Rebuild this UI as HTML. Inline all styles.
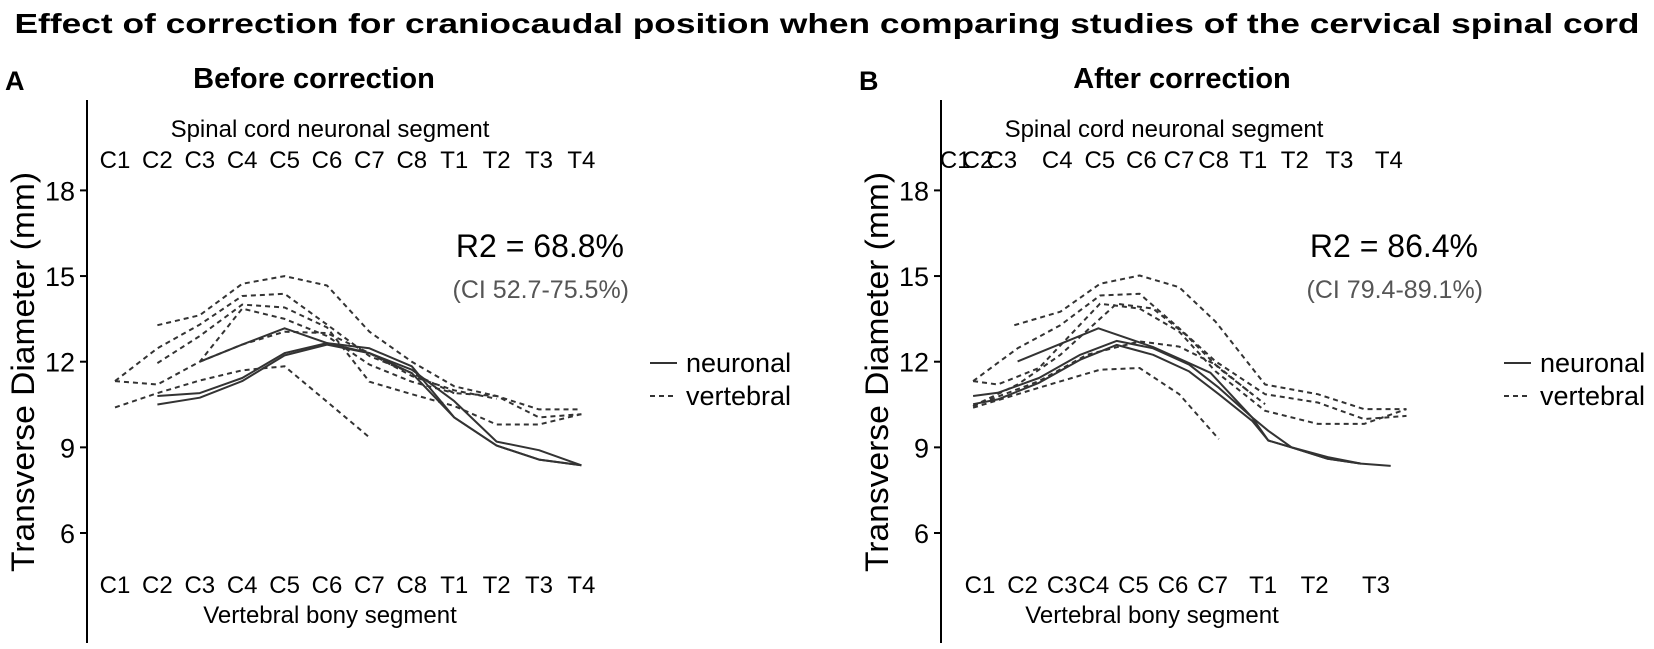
<!DOCTYPE html>
<html><head><meta charset="utf-8">
<style>
html,body{margin:0;padding:0;background:#fff;}
svg{display:block;font-family:"Liberation Sans",Arial,sans-serif;}
</style></head>
<body>
<svg id="chart" width="1654" height="649" viewBox="0 0 1654 649" xmlns="http://www.w3.org/2000/svg">
<text x="827" y="33" text-anchor="middle" font-size="28" font-weight="bold" textLength="1625" lengthAdjust="spacingAndGlyphs">Effect of correction for craniocaudal position when comparing studies of the cervical spinal cord</text>
<g id="panelA"></g>
<g id="panelB"></g>
</svg>
<script>
// ---------- shared data ----------
const yTicks = [6, 9, 12, 15, 18];
const segLabelsA = ["C1","C2","C3","C4","C5","C6","C7","C8","T1","T2","T3","T4"];
// Panel A: index positions (segment index), values in mm
const neuronalA = [
  {start:2, vals:[12.0,12.6,13.17,12.65,12.3,11.72,10.62,9.2,8.9,8.37]},
  {start:1, vals:[10.8,10.9,11.43,12.3,12.65,12.47,11.84,10.05,9.06,8.57,8.37]},
  {start:1, vals:[10.5,10.74,11.32,12.22,12.6,12.3,11.6,10.05,9.06,8.57,8.37]}
];
const vertebralA = [
  {start:1, vals:[13.28,13.63,14.73,15.0,14.67,13.05,12.0,11.14,10.8,10.33,10.33]},
  {start:0, vals:[11.32,12.47,13.3,14.3,14.38,13.3,12.2,11.6,10.9,10.8,10.05,10.16]},
  {start:0, vals:[11.32,11.2,12.0,13.86,13.5,12.9,11.9,11.3,10.9]},
  {start:1, vals:[11.95,12.9,14.0,13.9,13.2,11.3,10.86,10.45,9.8,9.8,10.16]},
  {start:2, vals:[12.0,12.6,13.05,13.0,12.3,11.5,11.0,10.7]},
  {start:0, vals:[10.4,10.9,11.34,11.7,11.84,10.6,9.35]}
];
// Panel B: continuous positions (vertebral units)
const bottomLabelsB = ["C1","C2","C3","C4","C5","C6","C7","T1","T2","T3"];
const bottomPosB = [0,1.075,2.075,2.875,3.875,4.875,5.875,7.15,8.45,10.0];
const topLabelsB = ["C1","C2","C3","C4","C5","C6","C7","C8","T1","T2","T3","T4"];
const topPosB = [-0.625,-0.05,0.55,1.95,3.025,4.075,5.025,5.9,6.9,7.95,9.075,10.325];
const neuronalBx = [
  [0.95,2.99,4.37,5.2,5.82,6.87,7.28,7.87,8.78,9.62,10.37],
  [-0.175,0.45,1.49,2.53,3.45,4.37,5.28,6.03,6.87,7.28,7.87,8.78,9.62],
  [-0.175,0.45,1.49,2.53,3.45,4.37,5.28,6.03,6.87,7.28,7.87,8.78,9.62]
];
const neuronalBy = [
  [12.01,13.17,12.51,12.0,11.61,10.05,9.58,9.0,8.66,8.43,8.35],
  [10.8,10.91,11.43,12.24,12.73,12.47,11.9,11.09,10.05,9.24,9.0,8.6,8.43],
  [10.51,10.68,11.26,12.07,12.59,12.24,11.66,10.86,9.93,9.24,9.0,8.6,8.43]
];
const vertebralBx = [
  [0.867,2.03,3.03,4.03,5.03,5.95,7.2,8.53,9.7,10.77],
  [-0.175,0.95,2.03,3.03,4.03,5.03,5.95,7.2,8.53,9.7,10.77],
  [-0.175,0.45,1.49,3.03,4.03,5.03,5.95,7.2,8.53,9.7,10.77],
  [-0.175,0.95,2.03,3.45,4.37,5.2,6.03,7.2],
  [-0.175,1.49,2.7,4.03,5.03,5.95,6.87],
  [-0.175,1.49,3.03,4.03,5.03,6.03]
];
const vertebralBy = [
  [13.28,13.75,14.73,15.02,14.61,13.4,11.2,10.86,10.34,10.34],
  [11.32,12.47,13.28,14.32,14.38,13.17,12.01,10.86,10.57,9.99,10.1],
  [11.32,11.2,11.78,14.03,13.86,13.05,11.66,10.28,9.82,9.82,10.34],
  [10.45,11.2,12.24,14.03,13.86,12.94,11.78,10.51],
  [10.45,11.32,12.24,12.71,12.53,11.9,10.86],
  [10.39,11.09,11.72,11.78,10.86,9.29]
];

const NS = "http://www.w3.org/2000/svg";
function mk(parent, tag, attrs, txt){
  const e = document.createElementNS(NS, tag);
  for (const k in attrs) e.setAttribute(k, attrs[k]);
  if (txt !== undefined) e.textContent = txt;
  parent.appendChild(e);
  return e;
}
const yScale = v => 533 - (v - 6) * 28.55;

function drawPanel(g, o){
  const off = o.off;
  const axisX = 87 + off;
  let t;
  t = mk(g,'text',{x:5+off,y:90,'font-size':27,'font-weight':'bold'},o.letter);
  
  
  t = mk(g,'text',{x:o.titleX,y:88,'font-size':29,'font-weight':'bold','text-anchor':'middle'},o.title);
  
  
  const ax = mk(g,'line',{x1:axisX,y1:100,x2:axisX,y2:643,stroke:'#000','stroke-width':2});
  
  
  yTicks.forEach(v=>{
    const y = yScale(v);
    const tk = mk(g,'line',{x1:axisX-7,y1:y,x2:axisX,y2:y,stroke:'#000','stroke-width':2});
    
    
    const tl = mk(g,'text',{x:axisX-12,y:y+10,'font-size':27,'text-anchor':'end'},String(v));
    
    
  });
  const yt = mk(g,'text',{x:0,y:0,'font-size':32,'text-anchor':'middle',transform:`translate(${34+off},372) rotate(-90)`,textLength:400,lengthAdjust:'spacingAndGlyphs'},'Transverse Diameter (mm)');
  
  
  const st = mk(g,'text',{x:o.topTitleX,y:137,'font-size':24,'text-anchor':'middle'},'Spinal cord neuronal segment');
  
  
  o.topLabels.forEach((l,i)=>{
    const e = mk(g,'text',{x:o.topX(i),y:168,'font-size':24,'text-anchor':'middle'},l);
    
    
  });
  o.bottomLabels.forEach((l,i)=>{
    const e = mk(g,'text',{x:o.botX(i),y:593,'font-size':24,'text-anchor':'middle'},l);
    
    
  });
  const bt = mk(g,'text',{x:o.botTitleX,y:623,'font-size':24,'text-anchor':'middle'},'Vertebral bony segment');
  
  
  o.series.forEach(s=>{
    const d = s.pts.map((p,i)=>(i?'L':'M')+p[0].toFixed(1)+','+yScale(p[1]).toFixed(1)).join(' ');
    const attrs = {d:d,fill:'none',stroke:'#333','stroke-width':2,'stroke-linejoin':'round'};
    if (s.dash) attrs['stroke-dasharray']='5,4';
    const p = mk(g,'path',attrs);
    
    
  });
  const r = mk(g,'text',{x:624+off,y:257,'font-size':32,'text-anchor':'end'},o.r2);
  
  
  const ci = mk(g,'text',{x:629+off,y:298,'font-size':25,'text-anchor':'end',fill:'#555'},o.ci);
  
  
  const l1 = mk(g,'line',{x1:650+off,y1:363,x2:677+off,y2:363,stroke:'#333','stroke-width':2});
  
  
  const lt1 = mk(g,'text',{x:686+off,y:372,'font-size':27},'neuronal');
  
  
  const l2 = mk(g,'line',{x1:650+off,y1:396,x2:677+off,y2:396,stroke:'#333','stroke-width':2,'stroke-dasharray':'5,4'});
  
  
  const lt2 = mk(g,'text',{x:686+off,y:405,'font-size':27},'vertebral');
  
  
}

const xA = i => 115 + 42.4 * i;
const seriesA = [];
neuronalA.forEach(s=>seriesA.push({dash:false, pts:s.vals.map((v,k)=>[xA(s.start+k),v])}));
vertebralA.forEach(s=>seriesA.push({dash:true, pts:s.vals.map((v,k)=>[xA(s.start+k),v])}));
drawPanel(document.getElementById('panelA'),{
  off:0, letter:'A', title:'Before correction', titleX:314, topTitleX:330, botTitleX:330,
  topLabels:segLabelsA, bottomLabels:segLabelsA, topX:xA, botX:xA,
  series:seriesA, r2:'R2 = 68.8%', ci:'(CI 52.7-75.5%)'
});

const xB = u => 980 + 39.6 * u;
const seriesB = [];
neuronalBx.forEach((xs,j)=>seriesB.push({dash:false, pts:xs.map((u,k)=>[xB(u),neuronalBy[j][k]])}));
vertebralBx.forEach((xs,j)=>seriesB.push({dash:true, pts:xs.map((u,k)=>[xB(u),vertebralBy[j][k]])}));
drawPanel(document.getElementById('panelB'),{
  off:854, letter:'B', title:'After correction', titleX:1182, topTitleX:1164, botTitleX:1152,
  topLabels:topLabelsB, bottomLabels:bottomLabelsB,
  topX:i=>xB(topPosB[i]), botX:i=>xB(bottomPosB[i]),
  series:seriesB, r2:'R2 = 86.4%', ci:'(CI 79.4-89.1%)'
});
</script>
</body></html>
